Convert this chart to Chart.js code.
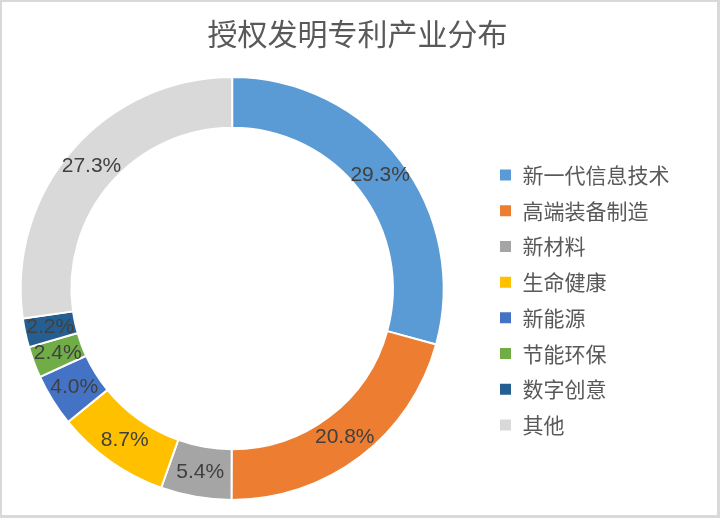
<!DOCTYPE html>
<html>
<head>
<meta charset="utf-8">
<script src="https://cdn.jsdelivr.net/npm/chart.js@4.4.1/dist/chart.umd.min.js"></script>
<style>
    body { margin: 0; background: #fff; }
    #wrap {
        width: 715px;
        height: 513px;
        overflow: hidden;
        border-style: solid;
        border-color: #d9d9d9;
        border-width: 2px 3px 3px 2px;
    }
    /* canvas starts a bit left of the frame so the ring sits where it should */
    #myChart { display: block; margin-left: -22px; }
</style>
</head>
<body>
<div id="wrap"><canvas id="myChart" width="737" height="513"></canvas></div>
<script>
const titleText = "授权发明专利产业分布";
const categories = ["新一代信息技术", "高端装备制造", "新材料", "生命健康", "新能源", "节能环保", "数字创意", "其他"];
const shares = [29.3, 20.8, 5.4, 8.7, 4.0, 2.4, 2.2, 27.3];
const colors = ["#5b9bd5", "#ed7d31", "#a5a5a5", "#ffc000", "#4472c4", "#70ad47", "#255e91", "#d9d9d9"];

Chart.defaults.font.family = '"Noto Sans CJK SC", "Noto Sans", sans-serif';

// title drawn over the whole width, the legend takes the right side
const titlePlugin = {
    id: 'titlePlugin',
    afterDraw(chart) {
        const ctx = chart.ctx;
        ctx.save();
        ctx.font = '30px "Noto Sans CJK SC", sans-serif';
        ctx.fillStyle = '#595959';
        ctx.textAlign = 'center';
        ctx.textBaseline = 'middle';
        ctx.fillText(titleText, 377.5, 32);
        ctx.restore();
    }
};

// percent labels in the middle of each ring segment
const percentLabels = {
    id: 'percentLabels',
    afterDatasetsDraw(chart) {
        const ctx = chart.ctx;
        const meta = chart.getDatasetMeta(0);
        ctx.save();
        ctx.font = '21px "Liberation Sans", Arial, sans-serif';
        ctx.fillStyle = '#404040';
        ctx.textAlign = 'center';
        ctx.textBaseline = 'middle';
        meta.data.forEach((arc, i) => {
            const pos = arc.tooltipPosition();
            ctx.fillText(shares[i].toFixed(1) + '%', pos.x, pos.y);
        });
        ctx.restore();
    }
};

let data = {
    labels: categories,
    datasets: [{
        data: shares,
        backgroundColor: colors,
        borderColor: '#ffffff',
        borderWidth: 2,
        radius: 211.5,
        cutout: '76%'
    }]
};

const config = {
    type: 'doughnut',
    data: data,
    options: {
        responsive: false,
        animation: false,
        layout: {
            padding: { left: 0, right: 37.5, top: 60, bottom: 0 }
        },
        plugins: {
            tooltip: { enabled: false },
            legend: {
                position: 'right',
                title: { display: true, text: '', padding: 0, font: { size: 23, lineHeight: 1 } },
                labels: {
                    boxWidth: 13,
                    boxHeight: 13,
                    padding: 14.7,
                    color: '#595959',
                    font: { size: 21 }
                }
            }
        }
    },
    plugins: [percentLabels, titlePlugin]
};

var myChart = new Chart(
    document.getElementById('myChart'),
    config
);
</script>
</body>
</html>
